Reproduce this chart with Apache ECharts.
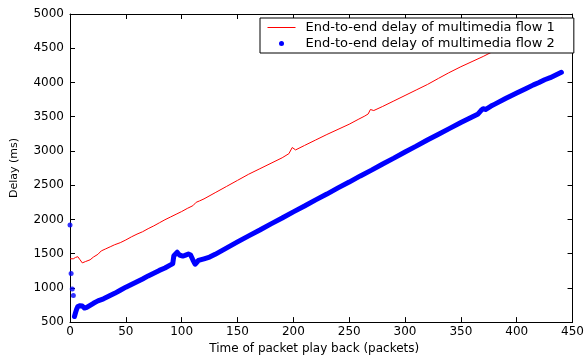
<!DOCTYPE html>
<html>
<head>
<meta charset="utf-8">
<script src="https://cdn.jsdelivr.net/npm/echarts@6/dist/echarts.min.js"></script>
<style>
  html, body { margin: 0; padding: 0; background: #fff; }
  #chart { width: 587px; height: 360px; }
</style>
</head>
<body>
<div id="chart"></div>
<script>
// flow 1 (red line)
const flow1Packets = [0, 3, 5, 7, 9, 11, 14, 18, 21, 25, 28, 32, 36, 40, 45, 50, 55, 60, 65, 70, 75, 80, 85, 90, 95, 100,
  105, 110, 113, 116, 120, 130, 140, 150, 160, 170, 180, 190, 196, 199, 202, 210, 220, 230, 240, 250, 258, 264, 267,
  269, 272, 280, 290, 300, 310, 320, 330, 339, 350, 360, 370, 379, 390, 400, 410, 420, 430, 440];
const flow1Delay = [1425, 1425, 1445, 1455, 1410, 1365, 1385, 1410, 1450, 1490, 1540, 1570, 1600, 1630, 1660, 1700, 1745,
  1785, 1820, 1865, 1905, 1950, 1995, 2035, 2075, 2115, 2160, 2200, 2250, 2270, 2300, 2390, 2480, 2570, 2660, 2740, 2820,
  2900, 2960, 3050, 3015, 3080, 3160, 3240, 3315, 3390, 3460, 3510, 3540, 3605, 3590, 3650, 3730, 3810, 3890, 3970, 4060,
  4140, 4230, 4305, 4380, 4455, 4540, 4620, 4700, 4780, 4860, 4940];

// flow 2 (blue dots): first few stray packets, then the dense band
const flow2StrayPackets = [0, 1, 2, 3];
const flow2StrayDelay = [1918, 1209, 982, 887];
const flow2Packets = [4, 5, 6, 7, 9, 11, 13, 15, 18, 21, 25, 30, 35, 40, 45, 50, 55, 60, 65, 70, 75, 80, 85, 90, 92,
  93, 94, 96, 98, 99, 101, 103, 106, 108, 110, 112, 113, 115, 120, 125, 130, 140, 150, 160, 170, 180, 190, 200, 210, 220,
  230, 240, 250, 260, 270, 280, 290, 300, 310, 320, 330, 340, 350, 360, 365, 368, 370, 372, 377, 380, 390, 400, 408, 415,
  420, 425, 430, 435, 440];
const flow2Delay = [582, 640, 690, 727, 740, 735, 705, 715, 745, 775, 810, 840, 880, 920, 965, 1010, 1050, 1090, 1130,
  1175, 1215, 1255, 1290, 1335, 1355, 1470, 1490, 1520, 1480, 1455, 1465, 1475, 1495, 1480, 1410, 1345, 1370, 1400, 1425,
  1450, 1490, 1580, 1672, 1760, 1845, 1935, 2020, 2110, 2195, 2285, 2370, 2460, 2545, 2635, 2720, 2810, 2895, 2985, 3070,
  3160, 3244, 3330, 3415, 3495, 3535, 3590, 3617, 3605, 3655, 3680, 3765, 3845, 3908, 3965, 4000, 4040, 4070, 4110, 4149];

const xTicks = { min: 0, max: 450, interval: 50 };
const yTicks = { min: 500, max: 5000, interval: 500 };

const name1 = 'End-to-end delay of multimedia flow 1';
const name2 = 'End-to-end delay of multimedia flow 2';

const zip = (xs, ys) => xs.map((x, i) => [x, ys[i]]);
const font = 'DejaVu Sans';

const chart = echarts.init(document.getElementById('chart'), null, { renderer: 'canvas' });

const boxAxis = {
  axisLine: { show: true, onZero: false, lineStyle: { color: '#000', width: 1 } },
  axisTick: { show: true, inside: true, length: 5, lineStyle: { color: '#000' } },
  splitLine: { show: false }
};

chart.setOption({
  animation: false,
  backgroundColor: '#fff',
  grid: { left: 70, right: 12, top: 14, bottom: 36 },
  legend: {
    orient: 'vertical',
    left: 260,
    top: 18,
    z: 20,
    padding: [3, 19, 3, 7],
    itemGap: 3,
    itemWidth: 28,
    itemHeight: 5,
    backgroundColor: '#fff',
    borderColor: '#000',
    borderWidth: 1,
    borderRadius: 0,
    textStyle: { fontFamily: font, fontSize: 13, color: '#000', padding: [0, 0, 0, 5] },
    data: [
      { name: name1, itemStyle: { opacity: 0 }, lineStyle: { width: 1 } },
      { name: name2, icon: 'circle' }
    ]
  },
  xAxis: [
    Object.assign({
      type: 'value',
      position: 'bottom',
      min: xTicks.min, max: xTicks.max, interval: xTicks.interval,
      name: 'Time of packet play back (packets)',
      nameLocation: 'middle',
      nameGap: 19,
      nameTextStyle: { fontFamily: font, fontSize: 12, color: '#000', padding: [0, 14, 0, 0] },
      axisLabel: { fontFamily: font, fontSize: 12, color: '#000', margin: 4 }
    }, boxAxis),
    Object.assign({
      type: 'value',
      position: 'top',
      min: xTicks.min, max: xTicks.max, interval: xTicks.interval,
      axisLabel: { show: false }
    }, boxAxis)
  ],
  yAxis: [
    Object.assign({
      type: 'value',
      position: 'left',
      min: yTicks.min, max: yTicks.max, interval: yTicks.interval,
      name: 'Delay (ms)',
      nameLocation: 'middle',
      nameGap: 50,
      nameTextStyle: { fontFamily: font, fontSize: 11, color: '#000' },
      axisLabel: { fontFamily: font, fontSize: 12, color: '#000', margin: 6, formatter: v => String(v) }
    }, boxAxis),
    Object.assign({
      type: 'value',
      position: 'right',
      min: yTicks.min, max: yTicks.max, interval: yTicks.interval,
      axisLabel: { show: false }
    }, boxAxis)
  ],
  series: [
    {
      name: name1,
      type: 'line',
      data: zip(flow1Packets, flow1Delay),
      showSymbol: false,
      symbol: 'none',
      lineStyle: { color: '#ff0000', width: 1 },
      itemStyle: { color: '#ff0000' },
      z: 3
    },
    {
      name: name2,
      type: 'line',
      data: zip(flow2Packets, flow2Delay),
      showSymbol: false,
      symbol: 'none',
      lineStyle: { color: '#0000ff', width: 5, cap: 'round', join: 'round' },
      itemStyle: { color: '#0000ff' },
      z: 2
    },
    {
      name: name2,
      type: 'scatter',
      data: zip(flow2StrayPackets, flow2StrayDelay),
      symbol: 'circle',
      symbolSize: 5,
      itemStyle: { color: '#0000ff' },
      z: 2
    }
  ]
});
</script>
</body>
</html>
